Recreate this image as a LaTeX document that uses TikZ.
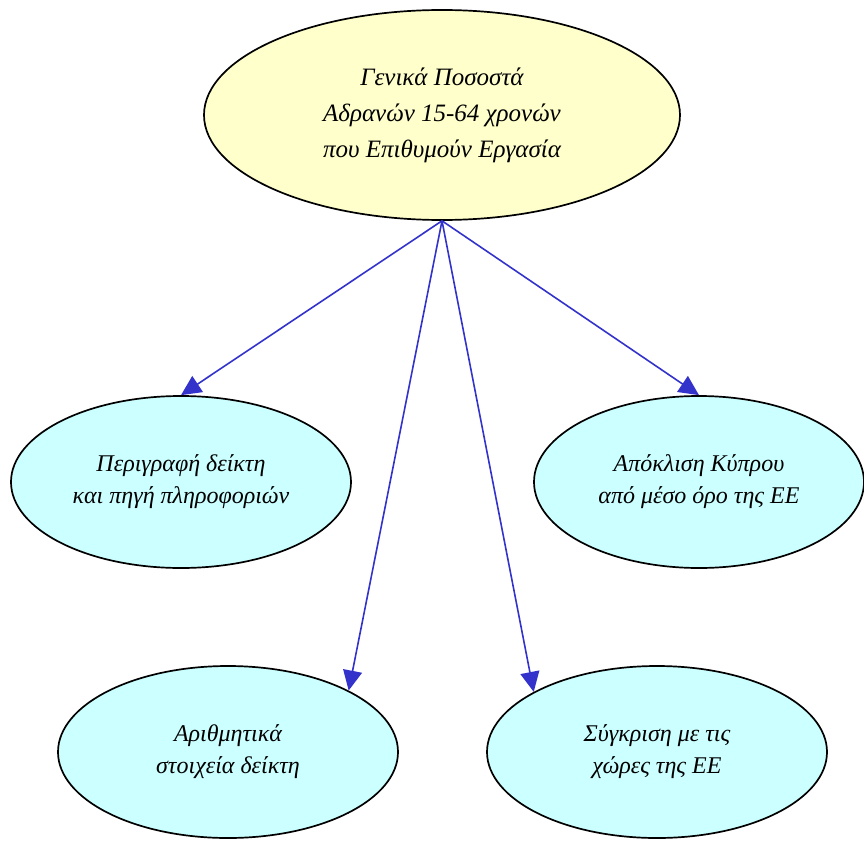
\documentclass[tikz,border=0pt]{standalone}
\usepackage{fontspec}
\setmainfont{Liberation Serif}
\usetikzlibrary{shapes.geometric,arrows.meta}

\definecolor{topfill}{RGB}{255,255,204}
\definecolor{leaffill}{RGB}{204,255,255}
\definecolor{linkblue}{RGB}{51,51,204}

\tikzset{
  topic/.style={ellipse,draw,line width=1.7pt,fill=topfill,inner sep=0pt,
    minimum width=476,minimum height=210,align=center,
    font=\itshape\fontsize{25}{36}\selectfont},
  leaf/.style={ellipse,draw,line width=1.7pt,fill=leaffill,inner sep=0pt,
    minimum width=340,minimum height=172,align=center,
    font=\itshape\fontsize{24}{32}\selectfont},
  link/.style={draw=linkblue,line width=1.6pt,-{Triangle[length=20pt,width=19pt,fill=linkblue]}}
}

\begin{document}
\begin{tikzpicture}[x=1pt,y=-1pt]
  \useasboundingbox (0,0) rectangle (864,840);
  \node[topic] (gen) at (442,115) {Γενικά Ποσοστά\\Αδρανών 15-64 χρονών\\που Επιθυμούν Εργασία};
  \node[leaf] (desc) at (181,482) {Περιγραφή δείκτη\\και πηγή πληροφοριών};
  \node[leaf,minimum width=330] (dev) at (699,482) {Απόκλιση Κύπρου\\από μέσο όρο της ΕΕ};
  \node[leaf] (num) at (228,752) {Αριθμητικά\\στοιχεία δείκτη};
  \node[leaf] (comp) at (657,752) {Σύγκριση με τις\\χώρες της ΕΕ};
  % links from the main topic
  \draw[link] (gen.south) -- (desc.north);
  \draw[link] (gen.south) -- (num.27);
  \draw[link] (gen.south) -- (comp.154);
  \draw[link] (gen.south) -- (dev.north);
\end{tikzpicture}
\end{document}
